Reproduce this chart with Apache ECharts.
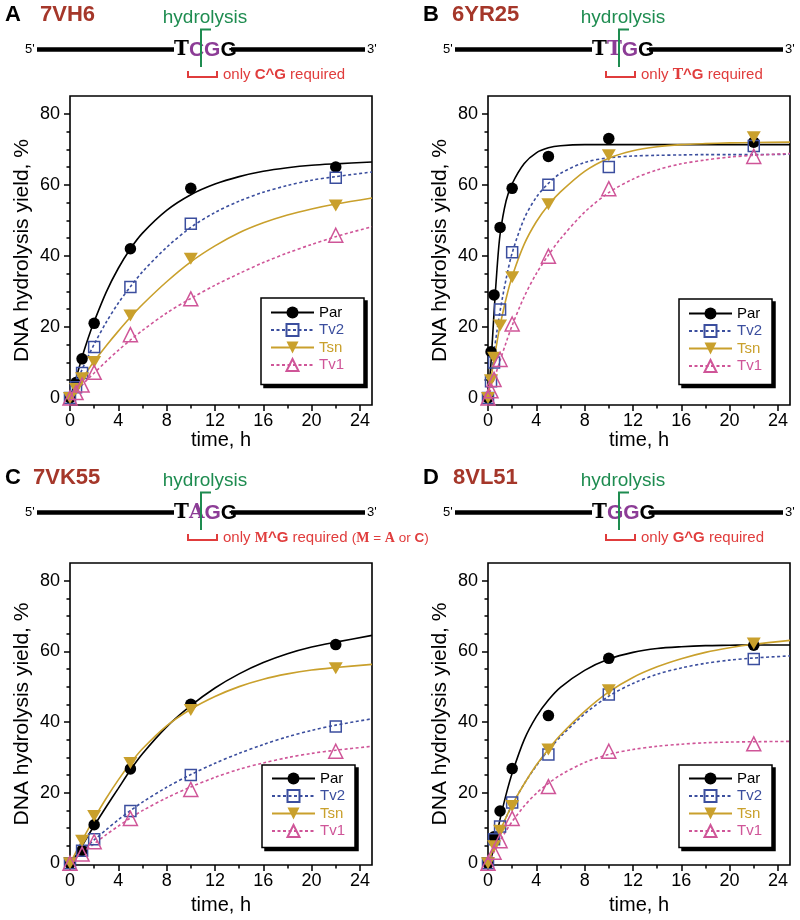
<!DOCTYPE html>
<html><head><meta charset="utf-8">
<script src="https://cdn.jsdelivr.net/npm/echarts@6/dist/echarts.min.js"></script>
<style>html,body{margin:0;padding:0;background:#fff}#c{width:800px;height:920px}</style>
</head><body><div id="c"></div>
<script>
// ---------------- DATA ----------------
const seriesNames = ['Par', 'Tv2', 'Tsn', 'Tv1'];
const xTickLabels = [0, 4, 8, 12, 16, 20, 24];
const xMinorTicks = [2, 6, 10, 14, 18, 22];
const yTickLabels = [0, 20, 40, 60, 80];
const yMinorTicks = [5, 10, 15, 25, 30, 35, 45, 50, 55, 65, 70, 75];

// measured points
const timesA = [0, 0.5, 1, 2, 5, 10, 22];
const parA = [0, 4.3, 11, 21, 42, 59, 65];
const tv2A = [0, 3, 7, 14.3, 31.2, 49, 62];
const tsnA = [0, 2.5, 5.5, 10.1, 23.2, 39.2, 54.2];
const tv1A = [0, 1.5, 3.6, 7.2, 17.8, 27.9, 45.8];

const timesB = [0, 0.25, 0.5, 1, 2, 5, 10, 22];
const parB = [0, 13, 29, 48, 59, 68, 73, 72];
const tv2B = [0, 4.7, 10, 24.9, 41, 60, 65, 70.9];
const tsnB = [0, 5, 11.3, 20.4, 34, 54.5, 68.3, 73.4];
const tv1B = [0, 2, 5.2, 10.8, 20.8, 39.9, 58.9, 68];

const timesC = [0, 1, 2, 5, 10, 22];
const parC = [0, 3.6, 10.9, 26.7, 45, 61.9];
const tv2C = [0, 3.5, 6.8, 14.8, 25, 38.7];
const tsnC = [0, 6.4, 13.4, 28.4, 43.4, 55.2];
const tv1C = [0, 2.6, 6.1, 12.7, 20.9, 31.7];

const timesD = [0, 0.5, 1, 2, 5, 10, 22];
const parD = [0, 7.5, 14.8, 26.8, 41.8, 58, 61.7];
const tv2D = [0, 6.8, 10.4, 17.2, 30.8, 47.8, 57.8];
const tsnD = [0, 4.8, 9.2, 16.2, 32.2, 49, 62.2];
const tv1D = [0, 3.1, 6.4, 12.7, 21.7, 31.7, 33.8];

// fitted curves at these times
const curveTimes = [0, 0.25, 0.5, 0.75, 1, 1.5, 2, 3, 4, 5, 6, 8, 10, 12, 14, 16, 18, 20, 22, 25];
const fitParA = [0, 2.5, 5.5, 8.5, 11.5, 16.8, 21.5, 29.8, 36.5, 42, 46.4, 52.8, 57.2, 60.2, 62.3, 63.8, 64.8, 65.5, 65.9, 66.4];
const fitTv2A = [0, 2.1, 4.2, 6.1, 8, 11.7, 15.1, 21.3, 26.7, 31.3, 35.5, 42.4, 48, 52.2, 55.4, 57.9, 59.8, 61.3, 62.3, 63.6];
const fitTsnA = [0, 1.4, 2.7, 4.1, 5.4, 7.9, 10.3, 14.7, 18.8, 22.7, 26.3, 32.7, 38.3, 42.8, 46.5, 49.3, 51.5, 53.2, 54.6, 56.3];
const fitTv1A = [0, 0.9, 1.8, 2.7, 3.6, 5.4, 7.0, 10.3, 13.4, 16.3, 19.0, 23.9, 28.0, 31.7, 35.0, 38.1, 40.8, 43.2, 45.4, 48.2];

const fitParB = [0, 10, 24, 36.5, 46, 55.5, 60.3, 66, 69, 70.4, 71, 71.3, 71.3, 71.3, 71.3, 71.3, 71.3, 71.3, 71.3, 71.3];
const fitTv2B = [0, 6.5, 13, 19, 24.5, 33.5, 40.8, 50.5, 56.5, 60.4, 63.2, 66.3, 67.6, 68.1, 68.3, 68.4, 68.5, 68.5, 68.5, 68.6];
const fitTsnB = [0, 5.6, 10.8, 15.8, 20.4, 28, 34.2, 43.3, 49.6, 54.3, 58, 63.8, 67.5, 69.6, 70.7, 71.3, 71.6, 71.8, 71.9, 72];
const fitTv1B = [0, 2.7, 5.3, 7.9, 10.5, 15.6, 20.4, 28.5, 35, 40.2, 44.8, 52.3, 57.8, 61.6, 64.2, 65.9, 67, 67.8, 68.3, 68.8];

const fitParC = [0, 1, 2.2, 3.5, 4.9, 7.8, 10.6, 16, 21.2, 26.4, 31, 38.6, 44.6, 49.6, 53.6, 56.8, 59.3, 61.2, 62.6, 64.5];
const fitTv2C = [0, 0.85, 1.7, 2.5, 3.3, 5, 6.6, 9.5, 12.3, 14.9, 17.3, 21.5, 25.1, 28.3, 31.1, 33.6, 35.8, 37.6, 39.1, 40.9];
const fitTsnC = [0, 1.6, 3.2, 4.8, 6.4, 9.6, 12.7, 18.4, 23.6, 28.3, 32.4, 38.9, 43.6, 47.2, 50, 52.1, 53.6, 54.7, 55.4, 56.3];
const fitTv1C = [0, 0.7, 1.4, 2.1, 2.8, 4.2, 5.5, 8.1, 10.5, 12.8, 14.9, 18.5, 21.6, 24.3, 26.6, 28.4, 29.9, 31.1, 32.0, 33.1];

const fitParD = [0, 1.5, 4.5, 8.5, 12.5, 19.5, 25.5, 35, 41.5, 46.2, 49.8, 54.6, 57.8, 59.7, 60.8, 61.3, 61.6, 61.7, 61.8, 61.8];
const fitTv2D = [0, 2.4, 4.8, 7, 9.2, 13, 16.5, 22.5, 27.6, 32, 35.8, 42.3, 47.3, 50.9, 53.5, 55.3, 56.6, 57.5, 58.1, 58.7];
const fitTsnD = [0, 2.4, 4.8, 7, 9.2, 13, 16.5, 22.5, 27.8, 32.3, 36.3, 43, 48.5, 52.6, 55.6, 57.9, 59.7, 61, 62, 63.1];
const fitTv1D = [0, 1.6, 3.2, 4.8, 6.3, 9.2, 11.8, 16.2, 19.8, 22.6, 25, 28.5, 30.8, 32.2, 33.1, 33.7, 34.1, 34.3, 34.4, 34.5];

// ---------------- STYLE / LAYOUT ----------------
const FONT = 'Liberation Sans, Arial, Helvetica, sans-serif';
const SERIF = 'DejaVu Serif, Liberation Serif, serif';
const SERIF2 = 'Liberation Serif, DejaVu Serif, serif';
const PURPLE = '#8c3c96', RED = '#e03c3c', GREEN = '#1e8c50', BROWN = '#a5372a';
const styles = {
  Par: {color: '#000000', symbol: 'circle', size: 11.5, fill: '#000000', bw: 0, dash: 'solid'},
  Tv2: {color: '#3b4e9e', symbol: 'rect', size: 11, fill: 'rgba(0,0,0,0)', bw: 1.5, dash: [3, 2.5]},
  Tsn: {color: '#c9a02c', symbol: 'path://M0,0L12,0L6,10Z', size: [14, 12], fill: '#c9a02c', bw: 0, dash: 'solid'},
  Tv1: {color: '#cf5598', symbol: 'triangle', size: 14, fill: 'rgba(0,0,0,0)', bw: 1.5, dash: [3, 2.5]}
};

const panels = [
  {grid: {left: 70, top: 96, width: 302, height: 309}, yMin: -2, times: timesA,
   pts: [parA, tv2A, tsnA, tv1A], fits: [fitParA, fitTv2A, fitTsnA, fitTv1A],
   legend: {left: 261, top: 298, padR: 20, padT: 7, padB: 12}, xGap: 23},
  {grid: {left: 488, top: 96, width: 302, height: 309}, yMin: -2, times: timesB,
   pts: [parB, tv2B, tsnB, tv1B], fits: [fitParB, fitTv2B, fitTsnB, fitTv1B],
   legend: {left: 679, top: 299, padR: 10, padT: 7, padB: 11}, xGap: 23},
  {grid: {left: 70, top: 563, width: 302, height: 302}, yMin: -0.5, times: timesC,
   pts: [parC, tv2C, tsnC, tv1C], fits: [fitParC, fitTv2C, fitTsnC, fitTv1C],
   legend: {left: 262, top: 765, padR: 10, padT: 6, padB: 9}, xGap: 30},
  {grid: {left: 488, top: 563, width: 302, height: 302}, yMin: -0.5, times: timesD,
   pts: [parD, tv2D, tsnD, tv1D], fits: [fitParD, fitTv2D, fitTsnD, fitTv1D],
   legend: {left: 679, top: 765, padR: 10, padT: 6, padB: 9}, xGap: 30}
];

const option = {
  animation: false,
  backgroundColor: '#fff',
  textStyle: {fontFamily: FONT},
  grid: [], xAxis: [], yAxis: [], series: [], legend: [], graphic: []
};

const tickLine = {color: '#000', width: 1.5};
panels.forEach((p, i) => {
  option.grid.push(Object.assign({show: true, borderColor: '#000', borderWidth: 1.6, backgroundColor: 'transparent'}, p.grid));
  option.xAxis.push({
    gridIndex: i, type: 'value', min: 0, max: 25, position: 'bottom',
    name: 'time, h', nameLocation: 'middle', nameGap: p.xGap,
    nameTextStyle: {fontSize: 20, color: '#000', fontFamily: FONT},
    axisLine: {show: false, onZero: false},
    axisTick: {show: true, inside: false, length: 6, lineStyle: tickLine, customValues: xTickLabels},
    axisLabel: {show: true, customValues: xTickLabels, fontSize: 18, color: '#000', margin: 7, fontFamily: FONT},
    splitLine: {show: false}
  });
  option.xAxis.push({
    gridIndex: i, type: 'value', min: 0, max: 25, position: 'bottom',
    axisLine: {show: false, onZero: false},
    axisTick: {show: true, inside: false, length: 3.5, lineStyle: tickLine, customValues: xMinorTicks},
    axisLabel: {show: false}, splitLine: {show: false}
  });
  option.yAxis.push({
    gridIndex: i, type: 'value', min: p.yMin, max: 85, position: 'left',
    name: 'DNA hydrolysis yield, %', nameLocation: 'middle', nameGap: 37,
    nameTextStyle: {fontSize: 21, color: '#000', fontFamily: FONT},
    axisLine: {show: false, onZero: false},
    axisTick: {show: true, inside: false, length: 6, lineStyle: tickLine, customValues: yTickLabels},
    axisLabel: {show: true, customValues: yTickLabels, fontSize: 18, color: '#000', margin: 10, fontFamily: FONT},
    splitLine: {show: false}
  });
  option.yAxis.push({
    gridIndex: i, type: 'value', min: p.yMin, max: 85, position: 'left',
    axisLine: {show: false, onZero: false},
    axisTick: {show: true, inside: false, length: 3.5, lineStyle: tickLine, customValues: yMinorTicks},
    axisLabel: {show: false}, splitLine: {show: false}
  });

  seriesNames.forEach((nm, k) => {
    const st = styles[nm];
    option.series.push({
      type: 'line', name: nm, xAxisIndex: 2 * i, yAxisIndex: 2 * i,
      data: curveTimes.map((t, j) => [t, p.fits[k][j]]),
      smooth: 0.3, showSymbol: false, symbol: st.symbol, symbolSize: st.size,
      itemStyle: {color: st.fill, borderColor: st.color, borderWidth: st.bw},
      lineStyle: {color: st.color, width: 1.6, type: st.dash},
      silent: true, z: 2
    });
  });
  seriesNames.forEach((nm, k) => {
    const st = styles[nm];
    option.series.push({
      type: 'scatter', name: nm + ' data', xAxisIndex: 2 * i, yAxisIndex: 2 * i,
      data: p.times.map((t, j) => [t, p.pts[k][j]]),
      symbol: st.symbol, symbolSize: st.size, clip: false,
      itemStyle: {color: st.fill, borderColor: st.color, borderWidth: st.bw, opacity: 1},
      silent: true, z: 3
    });
  });

  const legendBase = {
    orient: 'vertical',
    itemWidth: 43, itemHeight: 15, itemGap: 2.5,
    padding: [p.legend.padT, p.legend.padR, p.legend.padB, 9],
    borderColor: '#000', borderWidth: 1.5,
    textStyle: {fontSize: 15, fontFamily: FONT},
    selectedMode: false
  };
  // solid drop shadow: identical legend box, shifted by 3 px, black
  option.legend.push(Object.assign({}, legendBase, {
    left: p.legend.left + 3, top: p.legend.top + 3, z: 4,
    backgroundColor: '#000',
    data: seriesNames.map(n => ({name: n, textStyle: {color: 'rgba(0,0,0,0)'}})),
    itemStyle: {opacity: 0}, lineStyle: {opacity: 0}
  }));
  option.legend.push(Object.assign({}, legendBase, {
    left: p.legend.left, top: p.legend.top, z: 6,
    backgroundColor: '#fff',
    data: seriesNames.map(n => ({name: n, textStyle: {color: styles[n].color}}))
  }));
});

// ---------------- SCHEMATICS ----------------
function schematic(dx, dy, letter, letterX, name, nameX, seq, note) {
  const g = option.graphic;
  g.push({type: 'text', x: letterX, y: 15 + dy, style: {text: letter, fontSize: 22, fontWeight: 'bold', fill: '#000', fontFamily: FONT, verticalAlign: 'middle'}});
  g.push({type: 'text', x: nameX, y: 15 + dy, style: {text: name, fontSize: 22, fontWeight: 'bold', fill: BROWN, fontFamily: FONT, verticalAlign: 'middle'}});
  g.push({type: 'text', x: 205 + dx, y: 18 + dy, style: {text: 'hydrolysis', fontSize: 19, fill: GREEN, fontFamily: FONT, align: 'center', verticalAlign: 'middle'}});
  g.push({type: 'text', x: 25 + dx, y: 49 + dy, style: {text: "5'", fontSize: 13, fill: '#000', fontFamily: FONT, verticalAlign: 'middle'}});
  g.push({type: 'text', x: 367 + dx, y: 49 + dy, style: {text: "3'", fontSize: 13, fill: '#000', fontFamily: FONT, verticalAlign: 'middle'}});
  g.push({type: 'line', shape: {x1: 37 + dx, y1: 49.5 + dy, x2: 174 + dx, y2: 49.5 + dy}, style: {stroke: '#000', lineWidth: 4.5}});
  g.push({type: 'line', shape: {x1: 231 + dx, y1: 49.5 + dy, x2: 365 + dx, y2: 49.5 + dy}, style: {stroke: '#000', lineWidth: 4.5}});
  const rich = {
    ts: {fontFamily: SERIF, fontWeight: 'bold', fontSize: 20, fill: '#000'},
    ps: {fontFamily: SERIF, fontWeight: 'bold', fontSize: 20, fill: PURPLE},
    p: {fontFamily: FONT, fontWeight: 'bold', fontSize: 21, fill: PURPLE},
    k: {fontFamily: FONT, fontWeight: 'bold', fontSize: 21, fill: '#000'}
  };
  g.push({type: 'text', x: 174 + dx, y: 50 + dy, z: 5, style: {text: seq, rich: rich, verticalAlign: 'middle'}});
  g.push({type: 'polyline', z: 6, shape: {points: [[211 + dx, 29.5 + dy], [201 + dx, 29.5 + dy], [201 + dx, 67 + dy]]}, style: {stroke: GREEN, lineWidth: 2, fill: null}});
  g.push({type: 'polyline', shape: {points: [[188 + dx, 71 + dy], [188 + dx, 77 + dy], [217 + dx, 77 + dy], [217 + dx, 71 + dy]]}, style: {stroke: RED, lineWidth: 2, fill: null}});
  const nrich = {
    n: {fontFamily: FONT, fontSize: 15, fill: RED},
    b: {fontFamily: FONT, fontSize: 15, fontWeight: 'bold', fill: RED},
    s: {fontFamily: SERIF, fontSize: 14, fontWeight: 'bold', fill: RED},
    n2: {fontFamily: FONT, fontSize: 13.5, fill: RED},
    b2: {fontFamily: FONT, fontSize: 13.5, fontWeight: 'bold', fill: RED},
    s2: {fontFamily: SERIF2, fontSize: 14, fontWeight: 'bold', fill: RED}
  };
  g.push({type: 'text', x: 223 + dx, y: 75 + dy, style: {text: note, rich: nrich, verticalAlign: 'middle'}});
}
schematic(0, 0, 'A', 5, '7VH6', 40, '{ts|T}{p|C}{p|G}{k|G}', '{n|only }{b|C^G}{n| required}');
schematic(418, 0, 'B', 423, '6YR25', 452, '{ts|T}{ps|T}{p|G}{k|G}', '{n|only }{s|T}{b|^G}{n| required}');
schematic(0, 463, 'C', 5, '7VK55', 33, '{ts|T}{ps|A}{p|G}{k|G}', '{n|only }{s2|M}{b|^G}{n| required }{n2|(}{s2|M}{n2| = }{s2|A}{n2| or }{b2|C}{n2|)}');
schematic(418, 463, 'D', 423, '8VL51', 453, '{ts|T}{p|G}{p|G}{k|G}', '{n|only }{b|G^G}{n| required}');

const chart = echarts.init(document.getElementById('c'), null, {renderer: 'canvas'});
chart.setOption(option);
</script>
</body></html>
